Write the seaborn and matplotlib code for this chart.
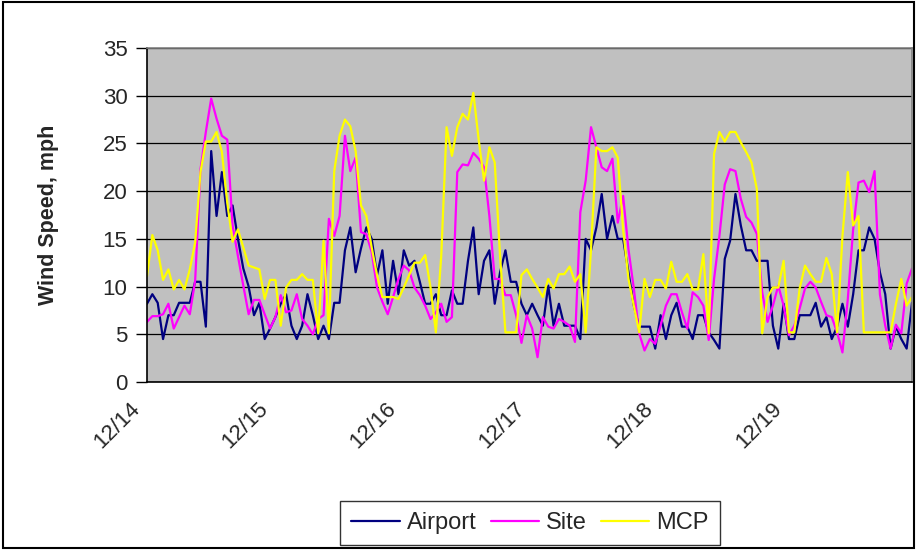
import matplotlib
matplotlib.use("Agg")
import matplotlib.pyplot as plt
import matplotlib.transforms as mtransforms
import seaborn as sns
import pandas as pd
import numpy as np
from matplotlib.patches import Rectangle

# Hourly wind speed (mph), 12/14 00:00 .. 12/19 23:00
airport = [8.2, 9.2, 8.3, 4.5, 7.0, 7.0, 8.3, 8.3, 8.3, 10.5, 10.5, 5.8, 24.2, 17.4, 22.0, 17.4,
           18.5, 15.0, 11.9, 10.0, 7.0, 8.3, 4.5, 5.6, 6.8, 8.2, 9.2, 5.9, 4.5, 5.9, 9.2, 7.0,
           4.5, 5.9, 4.5, 8.3, 8.3, 13.8, 16.2, 11.5, 14.0, 16.2, 15.0, 11.2, 13.8, 8.2, 12.7, 9.2,
           13.8, 12.2, 12.7, 10.5, 8.2, 8.2, 9.2, 7.0, 7.0, 9.6, 8.2, 8.2, 12.7, 16.2, 9.2, 12.7,
           13.8, 8.2, 11.5, 13.8, 10.5, 10.5, 8.2, 7.0, 8.2, 7.0, 5.9, 10.1, 5.9, 8.2, 5.9, 5.9,
           5.9, 4.5, 15.0, 13.8, 16.2, 19.7, 15.0, 17.4, 15.0, 15.0, 11.5, 8.0,
           5.8, 5.8, 5.8, 3.5, 7.0, 4.5, 7.0, 8.3, 5.8, 5.8, 4.5, 7.0, 7.0, 5.2, 4.4, 3.5,
           12.9, 14.8, 19.7, 16.4, 13.8, 13.8, 12.7, 12.7, 12.7, 5.9, 3.5, 8.2, 4.5, 4.5, 7.0, 7.0,
           7.0, 8.3, 5.8, 6.8, 4.5, 5.8, 8.2, 5.8, 9.2, 13.8, 13.8, 16.2, 15.0, 11.5, 9.2, 3.5,
           5.8, 4.5, 3.5, 8.3]
site = [6.3, 6.9, 6.9, 7.1, 8.2, 5.6, 6.8, 8.0, 7.1, 10.6, 22.3, 26.2, 29.7, 27.6, 25.8, 25.4,
        16.4, 13.2, 10.1, 7.1, 8.6, 8.6, 7.1, 5.6, 6.8, 9.1, 7.3, 7.5, 9.2, 6.6, 5.9, 5.0,
        6.6, 7.0, 17.1, 15.3, 17.4, 25.8, 22.1, 23.5, 15.7, 15.5, 13.6, 9.9, 8.4, 7.1, 8.9, 10.8,
        12.2, 11.7, 9.9, 9.1, 8.0, 6.6, 7.3, 8.2, 6.3, 6.8, 22.0, 22.8, 22.7, 24.0, 23.4, 22.5,
        17.4, 10.8, 10.8, 9.1, 9.1, 7.0, 4.1, 7.0, 5.6, 2.6, 6.8, 5.8, 5.6, 6.6, 6.3, 5.9,
        4.2, 17.8, 21.1, 26.7, 24.6, 22.5, 22.1, 23.4, 16.7, 19.5, 13.9, 9.8,
        5.1, 3.3, 4.5, 4.0, 5.9, 8.0, 9.2, 9.2, 7.3, 5.6, 9.4, 8.9, 8.0, 4.4, 10.8, 15.3,
        20.7, 22.3, 22.1, 19.2, 17.3, 16.7, 15.5, 9.4, 6.3, 8.0, 10.1, 8.0, 4.9, 5.9, 7.7, 9.8,
        10.5, 9.9, 8.4, 7.0, 6.8, 5.2, 3.1, 8.7, 16.0, 20.9, 21.1, 19.9, 22.1, 9.2, 5.9, 3.5,
        6.0, 5.1, 10.3, 11.9]
mcp = [11.1, 15.4, 13.8, 10.7, 11.8, 9.7, 10.7, 9.7, 11.8, 14.6, 22.0, 25.2, 25.2, 26.2, 24.1, 18.8,
       14.7, 16.0, 14.1, 12.2, 12.0, 11.8, 8.7, 10.7, 10.7, 5.9, 9.9, 10.7, 10.7, 11.3, 10.7, 10.7,
       5.1, 14.8, 5.1, 22.1, 25.8, 27.5, 26.8, 24.2, 18.5, 17.4, 14.1, 11.2, 8.9, 8.9, 8.9, 8.7,
       9.9, 11.2, 12.5, 12.5, 13.3, 9.9, 5.2, 13.2, 26.7, 23.7, 26.7, 28.1, 27.5, 30.3, 25.4, 21.1,
       24.6, 23.0, 13.2, 5.2, 5.2, 5.2, 11.2, 11.8, 10.8, 9.9, 8.9, 10.8, 9.8, 11.3, 11.3, 12.1,
       10.5, 11.3, 5.2, 13.9, 24.6, 24.2, 24.2, 24.6, 23.5, 16.0, 10.8, 8.0,
       5.2, 10.8, 8.9, 10.7, 10.7, 9.8, 12.6, 10.5, 10.5, 11.3, 9.7, 9.7, 13.4, 5.1, 23.9, 26.2,
       25.2, 26.2, 26.2, 25.1, 24.1, 23.0, 20.2, 5.1, 8.9, 9.9, 9.9, 12.7, 5.2, 5.2, 9.8, 12.2,
       11.3, 10.5, 10.5, 13.0, 11.3, 5.2, 15.3, 22.0, 16.4, 17.4, 5.2, 5.2, 5.2, 5.2, 5.2, 5.2,
       8.2, 10.8, 8.0, 8.9]

series_names = ["Airport", "Site", "MCP"]
series_colors = ["#000080", "#FF00FF", "#FFFF00"]
day_labels = ["12/14", "12/15", "12/16", "12/17", "12/18", "12/19"]
hours_per_day = 24
y_ticks = [0, 5, 10, 15, 20, 25, 30, 35]

n = len(airport)
hours = np.arange(n)
df = pd.DataFrame({
    "hour": np.tile(hours, 3),
    "speed": airport + site + mcp,
    "series": np.repeat(series_names, n),
})

sns.set_theme(style="white")
plt.rcParams['font.family'] = ['Liberation Sans', 'DejaVu Sans']

W, H = 917, 550
fig = plt.figure(figsize=(W / 100, H / 100), dpi=100)
fig.patch.set_facecolor("white")
ax = fig.add_axes([147 / W, 1 - 382 / H, 765 / W, 334 / H])
ax.set_facecolor("#C0C0C0")

sns.lineplot(data=df, x="hour", y="speed", hue="series", hue_order=series_names,
             palette=dict(zip(series_names, series_colors)), linewidth=1.6,
             estimator=None, ax=ax, legend=True)

ax.set_xlim(0, n - 1)
ax.set_ylim(0, 35)
ax.set_yticks(y_ticks)
ax.set_yticklabels([str(v) for v in y_ticks], fontsize=16)
ax.yaxis.grid(True, color="black", linewidth=0.9)
ax.xaxis.grid(False)
ax.set_axisbelow(True)

day_pos = np.arange(0, n, hours_per_day)
ax.set_xticks(day_pos)
ax.set_xticklabels(day_labels, rotation=45, ha="right", rotation_mode="anchor", fontsize=16)
ax.set_xticks(hours, minor=True)
ax.tick_params(axis="x", which="both", direction="out", length=6, width=1, color="black", pad=6)
ax.tick_params(axis="y", which="major", direction="out", length=8, width=1, color="black", pad=6, left=True)

shift = mtransforms.ScaledTranslation(-0.18, 0, fig.dpi_scale_trans)
for lbl in ax.get_xticklabels():
    lbl.set_transform(lbl.get_transform() + shift)

ax.set_xlabel("")
ax.set_ylabel("Wind Speed, mph", fontsize=15.5, fontweight="bold")
ax.yaxis.set_label_coords(-0.115, 0.5)

for side in ["left", "bottom"]:
    ax.spines[side].set_color("black")
    ax.spines[side].set_linewidth(1.2)
for side in ["top", "right"]:
    ax.spines[side].set_color("#808080")
    ax.spines[side].set_linewidth(1.2)

handles, labels = ax.get_legend_handles_labels()
ax.get_legend().remove()
leg = fig.legend(handles, labels, loc="center", bbox_to_anchor=(530 / W, 1 - 523 / H), ncol=3,
                 frameon=True, fancybox=False, edgecolor="black", fontsize=17,
                 handlelength=2.05, handletextpad=0.3, columnspacing=0.6, borderpad=0.45)
leg.get_frame().set_linewidth(1.0)
for line in leg.get_lines():
    line.set_linewidth(1.6)

fig.patches.append(Rectangle((0.003, 0.003), 0.994, 0.994, transform=fig.transFigure,
                             fill=False, edgecolor="black", linewidth=1.5))

fig.savefig("out.png", dpi=100)
